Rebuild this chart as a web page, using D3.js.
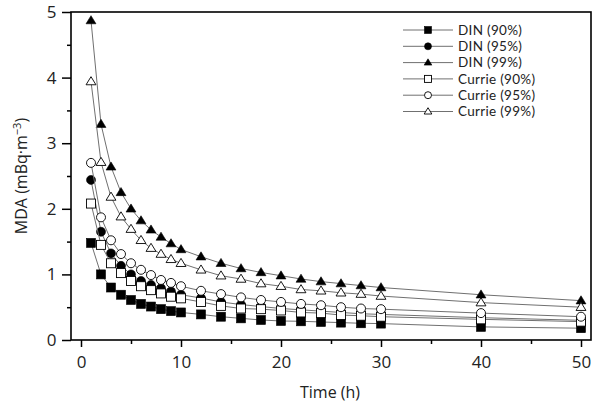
<!DOCTYPE html>
<html><head><meta charset="utf-8">
<script src="https://cdn.jsdelivr.net/npm/d3@7"></script>
<style>
html,body{margin:0;padding:0;background:#fff;}
svg{display:block;font-family:"Open Sans","Noto Sans",sans-serif;}
</style></head>
<body><svg id="c" width="596" height="407"></svg>
<script>
const times = [1,2,3,4,5,6,7,8,9,10,12,14,16,18,20,22,24,26,28,30,40,50];
const din90 = [1.48,1.00,0.80,0.69,0.61,0.55,0.51,0.47,0.44,0.42,0.39,0.355,0.33,0.305,0.29,0.285,0.275,0.265,0.255,0.25,0.20,0.18];
const din95 = [2.44,1.65,1.32,1.13,1.00,0.90,0.84,0.79,0.74,0.69,0.64,0.58,0.54,0.51,0.48,0.46,0.44,0.42,0.40,0.39,0.34,0.30];
const din99 = [4.87,3.29,2.64,2.25,2.00,1.82,1.68,1.57,1.47,1.38,1.27,1.17,1.09,1.03,0.98,0.93,0.89,0.86,0.83,0.80,0.69,0.60];
const currie90 = [2.08,1.45,1.17,1.02,0.90,0.82,0.76,0.71,0.66,0.635,0.58,0.52,0.48,0.47,0.45,0.42,0.41,0.38,0.37,0.355,0.315,0.28];
const currie95 = [2.70,1.87,1.52,1.31,1.17,1.07,0.99,0.915,0.87,0.82,0.75,0.70,0.65,0.61,0.58,0.55,0.53,0.50,0.48,0.47,0.41,0.355];
const currie99 = [3.94,2.71,2.18,1.88,1.69,1.52,1.40,1.31,1.23,1.17,1.07,0.98,0.93,0.86,0.82,0.77,0.75,0.72,0.70,0.67,0.57,0.50];
const seriesNames = ["DIN (90%)","DIN (95%)","DIN (99%)","Currie (90%)","Currie (95%)","Currie (99%)"];
const xTicks = [0,10,20,30,40,50];
const yTicks = [0,1,2,3,4,5];

const series = [
  {name:seriesNames[0], vals:din90, shape:"square", fill:"#000"},
  {name:seriesNames[1], vals:din95, shape:"circle", fill:"#000"},
  {name:seriesNames[2], vals:din99, shape:"triangle", fill:"#000"},
  {name:seriesNames[3], vals:currie90, shape:"square", fill:"#fff"},
  {name:seriesNames[4], vals:currie95, shape:"circle", fill:"#fff"},
  {name:seriesNames[5], vals:currie99, shape:"triangle", fill:"#fff"}
];

const svg = d3.select("#c");
const L=71, R=591, T=12, B=340;
const x = d3.scaleLinear().domain([-1,51]).range([L,R]);
const y = d3.scaleLinear().domain([0,5]).range([B,T]);

function marker(g, shape, fill, s){
  if(shape==="square"){
    g.append("rect").attr("x",-s/2).attr("y",-s/2).attr("width",s).attr("height",s);
  } else if(shape==="circle"){
    g.append("circle").attr("r",s/2);
  } else {
    const h=s*0.9, w=s*1.1;
    g.append("path").attr("d",`M0,${-h*0.6}L${w/2},${h*0.4}L${-w/2},${h*0.4}Z`);
  }
  g.selectAll("*").attr("fill",fill).attr("stroke","#000").attr("stroke-width",fill==="#000"?0.6:0.9);
}

const line = d3.line().x((d,i)=>x(times[i])).y(d=>y(d));
series.forEach(s=>{
  svg.append("path").datum(s.vals).attr("d",line).attr("fill","none").attr("stroke","#707070").attr("stroke-width",1);
  s.vals.forEach((v,i)=>{
    const g = svg.append("g").attr("transform",`translate(${x(times[i])},${y(v)})`);
    marker(g,s.shape,s.fill,9);
  });
});

// frame
svg.append("rect").attr("x",L).attr("y",T).attr("width",R-L).attr("height",B-T).attr("fill","none").attr("stroke","#000").attr("stroke-width",1.6);

// x axis
const xa = svg.append("g").attr("transform",`translate(0,${B})`);
xa.call(d3.axisBottom(x).tickValues(xTicks).tickSize(7).tickFormat(d3.format("d")));
const xm = svg.append("g").attr("transform",`translate(0,${B})`);
xm.call(d3.axisBottom(x).tickValues([5,15,25,35,45]).tickSize(4).tickFormat(""));
// y axis
const ya = svg.append("g").attr("transform",`translate(${L},0)`);
ya.call(d3.axisLeft(y).tickValues(yTicks).tickSize(9).tickFormat(d3.format("d")));
const ym = svg.append("g").attr("transform",`translate(${L},0)`);
ym.call(d3.axisLeft(y).tickValues([0.5,1.5,2.5,3.5,4.5]).tickSize(4).tickFormat(""));
[xa,xm,ya,ym].forEach(a=>{
  a.select(".domain").remove();
  a.selectAll(".tick line").attr("stroke","#000").attr("stroke-width",1.5);
  a.selectAll("text").attr("font-size",17).attr("fill","#222").attr("font-family","'Open Sans',sans-serif");
});
xa.selectAll("text").attr("dy","1.05em");
ya.selectAll("text").attr("dx","-0.15em");

// axis titles
svg.append("text").attr("x",330).attr("y",398).attr("text-anchor","middle").attr("font-size",16).attr("fill","#222").text("Time (h)");
const yt = svg.append("text").attr("transform","translate(27,176) rotate(-90)").attr("text-anchor","middle").attr("font-size",16).attr("fill","#222");
yt.append("tspan").text("MDA (mBq·m");
yt.append("tspan").attr("dy",-6).attr("font-size",11).text("−3");
yt.append("tspan").attr("dy",6).text(")");

// legend
const lg = svg.append("g");
series.forEach((s,i)=>{
  const yy = 30 + i*16.3;
  lg.append("line").attr("x1",403).attr("x2",453).attr("y1",yy).attr("y2",yy).attr("stroke","#707070").attr("stroke-width",1);
  const g = lg.append("g").attr("transform",`translate(428,${yy})`);
  marker(g,s.shape,s.fill,7);
  lg.append("text").attr("x",458).attr("y",yy).attr("dy","0.36em").attr("font-size",13.5)
    .attr("font-family","Lato,sans-serif").attr("letter-spacing",0.3).attr("fill","#222").text(s.name);
});
</script></body></html>
